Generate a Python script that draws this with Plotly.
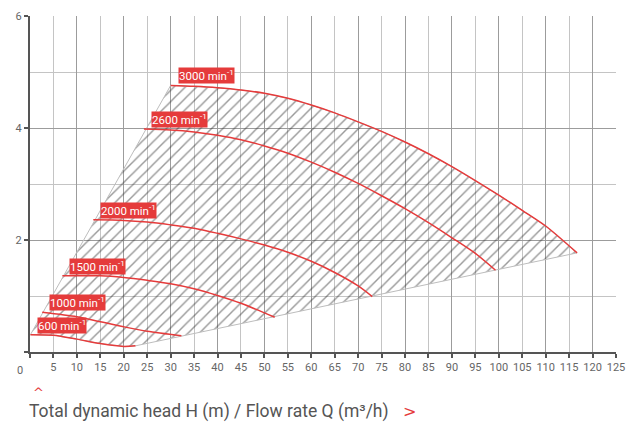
import plotly.graph_objects as go

# Speeds (labels)
speeds = ["600", "1000", "1500", "2000", "2600", "3000"]

# Curves: flow rate Q (m3/h) and head H (m)
Q_600 = [0.1, 5, 10, 15, 20, 22.5]
H_600 = [0.31, 0.30, 0.23, 0.15, 0.10, 0.11]

Q_1000 = [2.6, 10, 15, 20, 25, 32.3]
H_1000 = [0.71, 0.63, 0.54, 0.45, 0.37, 0.29]

Q_1500 = [6.9, 15, 20, 25, 30, 35, 40, 45, 52.2]
H_1500 = [1.36, 1.36, 1.33, 1.28, 1.22, 1.13, 1.01, 0.87, 0.62]

Q_2000 = [13.5, 20, 25, 30, 35, 40, 45, 50, 55, 60, 65, 70, 73]
H_2000 = [2.36, 2.35, 2.32, 2.27, 2.21, 2.12, 2.02, 1.91, 1.78, 1.62, 1.42, 1.18, 0.99]

Q_2600 = [24.3, 30, 35, 40, 45, 50, 55, 60, 65, 70, 75, 80, 85, 90, 95, 99.3]
H_2600 = [3.98, 3.965, 3.93, 3.87, 3.79, 3.68, 3.55, 3.39, 3.21, 3.01, 2.79, 2.56, 2.31, 2.04, 1.76, 1.46]

Q_3000 = [30, 35, 40, 45, 50, 55, 60, 65, 70, 75, 80, 85, 90, 95, 100, 105, 110, 116.7]
H_3000 = [4.76, 4.745, 4.72, 4.68, 4.62, 4.53, 4.41, 4.27, 4.11, 3.94, 3.75, 3.54, 3.31, 3.06, 2.80, 2.53, 2.25, 1.77]

x_ticks = list(range(0, 130, 5))
y_ticks = [0, 2, 4, 6]

curves = [(Q_600, H_600), (Q_1000, H_1000), (Q_1500, H_1500),
          (Q_2000, H_2000), (Q_2600, H_2600), (Q_3000, H_3000)]

RED = "#e53b3b"
TXT = "#666666"
FONT = "Roboto"

fig = go.Figure()

# Operating envelope (hatched): 3000 curve -> bottom edge -> 600 curve reversed -> left edge
env_x = Q_3000 + Q_600[::-1] + [Q_3000[0]]
env_y = H_3000 + H_600[::-1] + [H_3000[0]]
fig.add_trace(go.Scatter(
    x=env_x, y=env_y, mode="lines", fill="toself",
    fillcolor="rgba(0,0,0,0)",
    fillpattern=dict(shape="/", fgcolor="#333333", bgcolor="rgba(0,0,0,0)",
                     size=8, solidity=0.18),
    line=dict(color="#bdbdbd", width=1),
    hoverinfo="skip", showlegend=False,
))

for (qx, hy), sp in zip(curves, speeds):
    fig.add_trace(go.Scatter(
        x=qx, y=hy, mode="lines",
        line=dict(color=RED, width=1.5, shape="spline", smoothing=0.8),
        showlegend=False, name=sp + " min-1",
    ))
    fig.add_annotation(
        x=qx[0], y=hy[0], xref="x", yref="y", xanchor="left", yanchor="bottom",
        xshift=7, yshift=1, showarrow=False,
        text=sp + " min<sup>-1</sup>", bgcolor=RED, borderpad=0,
        font=dict(family=FONT, size=11.5, color="white"),
    )

# darker grid every 10 via overlaying axis
fig.add_trace(go.Scatter(x=[0, 125], y=[0, 0], xaxis="x2", mode="lines",
                         line=dict(width=0), hoverinfo="skip", showlegend=False))

fig.update_layout(
    width=640, height=423,
    margin=dict(l=30, r=24, t=16, b=71),
    paper_bgcolor="white", plot_bgcolor="white",
    font=dict(family=FONT, color=TXT, size=11),
    xaxis=dict(
        range=[0, 125], tickvals=x_ticks, automargin=False,
        ticktext=["" if v == 0 else str(v) for v in x_ticks],
        showgrid=True, gridcolor="#c4c4c4", gridwidth=1,
        showline=True, linecolor="#555555", linewidth=2,
        ticks="outside", ticklen=4, tickcolor="#555555", tickwidth=1.5,
        zeroline=False, tickfont=dict(size=11, color=TXT),
    ),
    xaxis2=dict(
        range=[0, 125], overlaying="x", tickvals=x_ticks[::2], automargin=False,
        showticklabels=False, showgrid=True, gridcolor="#9c9c9c", gridwidth=1,
        showline=False, zeroline=False, ticks="",
    ),
    yaxis=dict(
        range=[0, 6], tickvals=y_ticks, automargin=False,
        ticktext=["" if v == 0 else str(v) for v in y_ticks],
        showgrid=True, gridcolor="#9c9c9c", gridwidth=1,
        minor=dict(dtick=1, showgrid=True, gridcolor="#c4c4c4", ticks=""),
        showline=True, linecolor="#555555", linewidth=2,
        ticks="outside", ticklen=4, tickcolor="#555555", tickwidth=1.5,
        zeroline=False, tickfont=dict(size=11, color=TXT),
    ),
)

# "0" label of the flow axis, drawn left of the corner
fig.add_annotation(x=0, y=0, xref="x", yref="y", text="0", showarrow=False,
                   xshift=-10, yshift=-18, font=dict(size=11, color=TXT))

# bottom caption
fig.add_annotation(x=-0.005, y=-0.176, xref="paper", yref="paper",
                   xanchor="left", yanchor="middle", showarrow=False,
                   text="Total dynamic head H (m) / Flow rate Q (m³/h)",
                   font=dict(family=FONT, size=17.5, color="#555555"))
fig.add_annotation(x=0.002, y=-0.122, xref="paper", yref="paper",
                   xanchor="left", yanchor="middle", showarrow=False,
                   text="^", font=dict(family="DejaVu Sans", size=13, color=RED))
fig.add_annotation(x=0.633, y=-0.176, xref="paper", yref="paper",
                   xanchor="left", yanchor="middle", showarrow=False,
                   text="&gt;", font=dict(family="DejaVu Sans", size=16, color=RED))

fig.write_html(
    "out.html",
    config={"displayModeBar": False},
    post_script="document.body.style.margin='0';document.body.style.overflow='hidden';",
)
